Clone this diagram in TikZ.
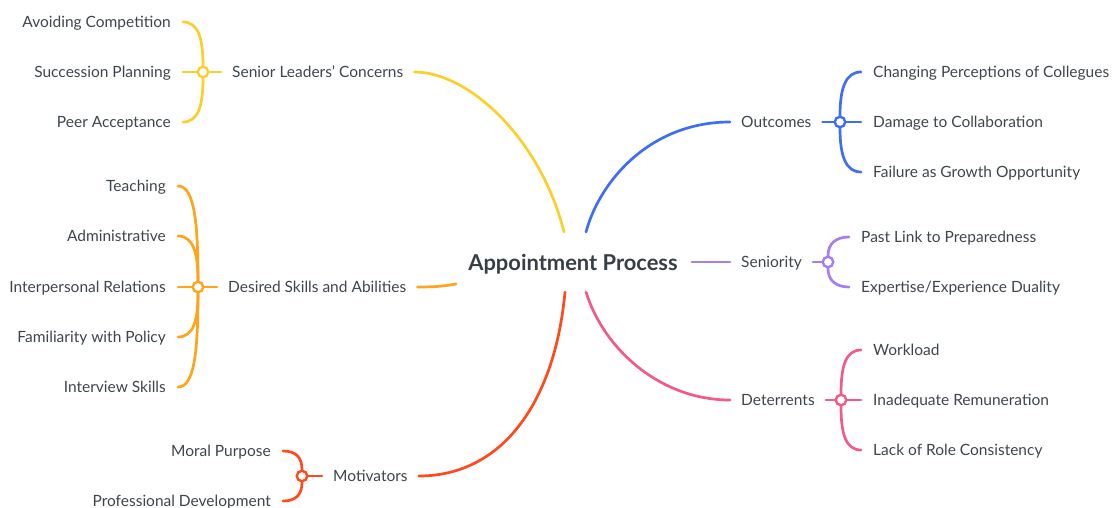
\documentclass[tikz,border=0pt]{standalone}
\usepackage{fontspec}
\setmainfont{Lato}
\usetikzlibrary{calc}
\definecolor{txt}{HTML}{3E454D}
\definecolor{cyel}{HTML}{FDCF2C}
\definecolor{cora}{HTML}{FFA41B}
\definecolor{cred}{HTML}{FF4A1E}
\definecolor{cblu}{HTML}{3F6EF2}
\definecolor{cpur}{HTML}{A57EF0}
\definecolor{cpnk}{HTML}{F25A88}
\begin{document}
\begin{tikzpicture}[x=1pt,y=-1pt,
  lbl/.style={inner sep=0pt,text height=11.8pt,text depth=0pt,text=txt,font=\fontsize{15.5}{18}\selectfont},
  lft/.style={lbl,anchor=east},
  rgt/.style={lbl,anchor=west},
  hub/.style={circle,draw,fill=white,line width=2.4pt,inner sep=0pt,minimum size=10.5pt},
  br/.style={line width=2.7pt,line cap=round}]
\useasboundingbox (0,0) rectangle (1113,508);
% root
\node[lbl,text height=16pt,font=\fontsize{21.9}{26}\selectfont\bfseries,text=txt!90!black] (root) at (573,262) {Appointment Process};
% left parents
\node[rgt] (slc) at (232,72) {Senior Leaders' Concerns};
\node[rgt] (dsa) at (228,287) {Desired Skills and Abilities};
\node[rgt] (mot) at (333,476) {Motivators};
% right parents
\node[rgt] (out) at (741,122) {Outcomes};
\node[rgt] (sen) at (741,262) {Seniority};
\node[rgt] (det) at (741,400) {Deterrents};
% hubs
\node[hub,draw=cyel] (hslc) at (203,72) {};
\node[hub,draw=cora] (hdsa) at (198,287) {};
\node[hub,draw=cred] (hmot) at (302,476) {};
\node[hub,draw=cblu] (hout) at (840,122) {};
\node[hub,draw=cpur] (hsen) at (828,262) {};
\node[hub,draw=cpnk] (hdet) at (841,400) {};
% children
\node[lft] (ac) at (171,22) {Avoiding Competition};
\node[lft] (sp) at (171,72) {Succession Planning};
\node[lft] (pa) at (171,122) {Peer Acceptance};
\node[lft] (te) at (166,186) {Teaching};
\node[lft] (ad) at (166,236) {Administrative};
\node[lft] (ir) at (166,287) {Interpersonal Relations};
\node[lft] (fp) at (166,337) {Familiarity with Policy};
\node[lft] (is) at (166,387) {Interview Skills};
\node[lft] (mp) at (271,451) {Moral Purpose};
\node[lft] (pd) at (271,501) {Professional Development};
\node[rgt] (cp) at (873,72) {Changing Perceptions of Collegues};
\node[rgt] (dc) at (873,122) {Damage to Collaboration};
\node[rgt] (fg) at (873,172) {Failure as Growth Opportunity};
\node[rgt] (pl) at (861,237) {Past Link to Preparedness};
\node[rgt] (ed) at (861,287) {Expertise/Experience Duality};
\node[rgt] (wl) at (873,350) {Workload};
\node[rgt] (inr) at (873,400) {Inadequate Remuneration};
\node[rgt] (lr) at (873,450) {Lack of Role Consistency};
% main branches
\draw[br,cyel] ($(root.center)+(-9,-30)$) .. controls +(-23,-92) and +(55,0) .. ([xshift=11pt]slc.east);
\draw[br,cblu] ($(root.center)+(13,-30)$) .. controls +(14,-52) and +(-79,0) .. ([xshift=-11pt]out.west);
\draw[br,cora] ($(root.west)+(-12,22)$) .. controls +(-12,2) and +(20,0) .. ([xshift=11pt]dsa.east);
\draw[br,cpur] ([xshift=14pt]root.east) -- ([xshift=-11pt]sen.west);
\draw[br,cred] ($(root.center)+(-8,30)$) .. controls +(-10,108) and +(85,0) .. ([xshift=11pt]mot.east);
\draw[br,cpnk] ($(root.center)+(13,30)$) .. controls +(18,58) and +(-69,0) .. ([xshift=-11pt]det.west);
% stubs hub-parent
\draw[br,cyel] (hslc.east) -- ([xshift=-11pt]slc.west);
\draw[br,cora] (hdsa.east) -- ([xshift=-11pt]dsa.west);
\draw[br,cred] (hmot.east) -- ([xshift=-11pt]mot.west);
\draw[br,cblu] (hout.west) -- ([xshift=11pt]out.east);
\draw[br,cpur] (hsen.west) -- ([xshift=11pt]sen.east);
\draw[br,cpnk] (hdet.west) -- ([xshift=11pt]det.east);
% children connectors left
\draw[br,cyel] ([xshift=12pt]ac.east) .. controls +(15,0) and +(0,-28) .. (hslc.north);
\draw[br,cyel] ([xshift=12pt]sp.east) -- (hslc.west);
\draw[br,cyel] ([xshift=12pt]pa.east) .. controls +(15,0) and +(0,28) .. (hslc.south);
\draw[br,cora] ([xshift=12pt]te.east) .. controls +(16,0) and +(0,-60) .. (hdsa.north);
\draw[br,cora] ([xshift=12pt]ad.east) .. controls +(15,0) and +(0,-28) .. (hdsa.north);
\draw[br,cora] ([xshift=12pt]ir.east) -- (hdsa.west);
\draw[br,cora] ([xshift=12pt]fp.east) .. controls +(15,0) and +(0,28) .. (hdsa.south);
\draw[br,cora] ([xshift=12pt]is.east) .. controls +(16,0) and +(0,60) .. (hdsa.south);
\draw[br,cred] ([xshift=12pt]mp.east) .. controls +(13,0) and +(0,-12) .. (hmot.north);
\draw[br,cred] ([xshift=12pt]pd.east) .. controls +(13,0) and +(0,12) .. (hmot.south);
% children connectors right
\draw[br,cblu] (hout.north) .. controls +(0,-28) and +(-15,0) .. ([xshift=-12pt]cp.west);
\draw[br,cblu] (hout.east) -- ([xshift=-12pt]dc.west);
\draw[br,cblu] (hout.south) .. controls +(0,28) and +(-15,0) .. ([xshift=-12pt]fg.west);
\draw[br,cpur] (hsen.north) .. controls +(0,-12) and +(-13,0) .. ([xshift=-12pt]pl.west);
\draw[br,cpur] (hsen.south) .. controls +(0,12) and +(-13,0) .. ([xshift=-12pt]ed.west);
\draw[br,cpnk] (hdet.north) .. controls +(0,-28) and +(-15,0) .. ([xshift=-12pt]wl.west);
\draw[br,cpnk] (hdet.east) -- ([xshift=-12pt]inr.west);
\draw[br,cpnk] (hdet.south) .. controls +(0,28) and +(-15,0) .. ([xshift=-12pt]lr.west);
\end{tikzpicture}
\end{document}
